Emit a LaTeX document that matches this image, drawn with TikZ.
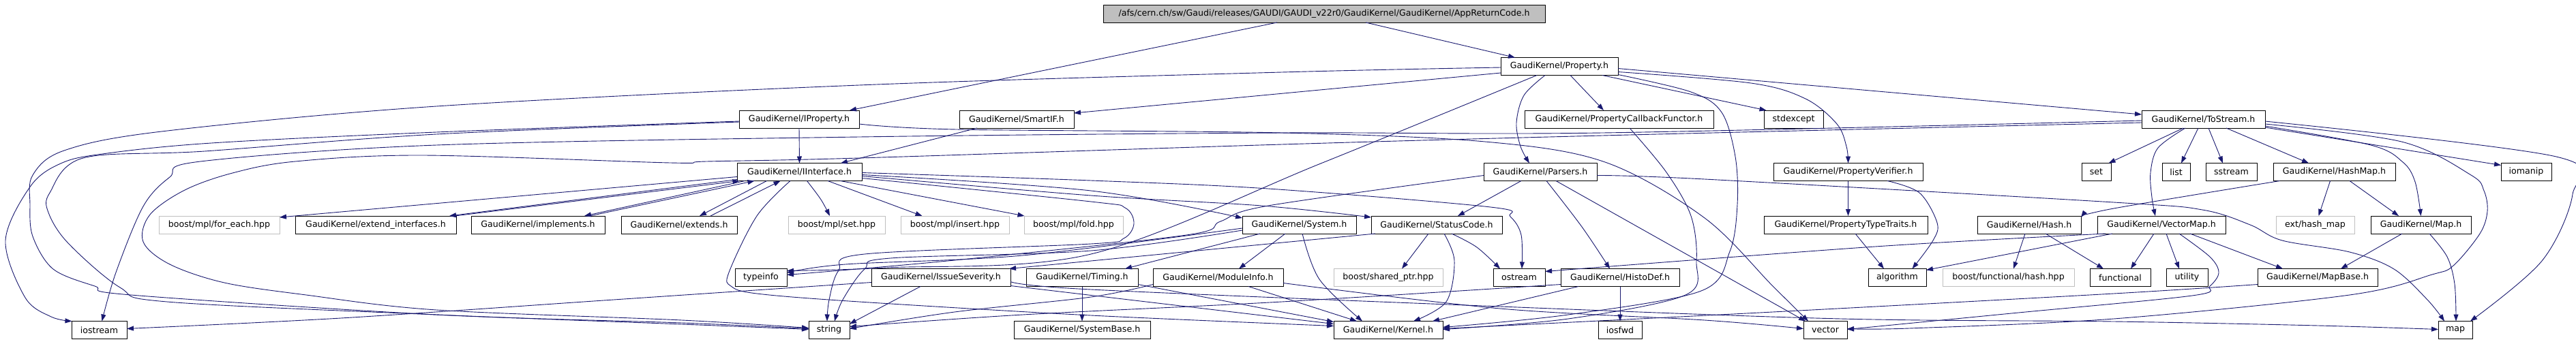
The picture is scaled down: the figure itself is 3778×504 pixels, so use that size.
\documentclass[tikz,border=0pt]{standalone}
\usepackage{fontspec}
\setmainfont{DejaVu Sans}
\usetikzlibrary{arrows.meta}
\definecolor{edgec}{HTML}{191970}
\definecolor{grayb}{HTML}{BFBFBF}
\begin{document}
\begin{tikzpicture}[x=1pt,y=-1pt,
  box/.style={draw=black,line width=1,minimum height=26,inner sep=0,font=\fontsize{12.6}{14}\selectfont},
  extbox/.style={box,draw=grayb},
  edge/.style={draw=edgec,line width=0.9,-{Triangle[length=10pt,width=7pt]}},
  sm/.style={smooth,tension=0.55}]
\useasboundingbox[fill=white] (0,0) rectangle (3778,504);
% row 0
\node[box,fill=grayb,minimum width=648] (title) at (1942,20) {/afs/cern.ch/sw/Gaudi/releases/GAUDI/GAUDI\_v22r0/GaudiKernel/GaudiKernel/AppReturnCode.h};
% row 1
\node[box,minimum width=172] (prop) at (2287,97.5) {GaudiKernel/Property.h};
% row 2
\node[box,minimum width=176] (iprop) at (1172,175) {GaudiKernel/IProperty.h};
\node[box,minimum width=168] (smartif) at (1491,175) {GaudiKernel/SmartIF.h};
\node[box,minimum width=277] (pcf) at (2374.5,175) {GaudiKernel/PropertyCallbackFunctor.h};
\node[box,minimum width=87] (stdexc) at (2630.5,175) {stdexcept};
\node[box,minimum width=181] (tostream) at (3231.5,175) {GaudiKernel/ToStream.h};
% row 3
\node[box,minimum width=183] (iinterface) at (1172.5,252.5) {GaudiKernel/IInterface.h};
\node[box,minimum width=166] (parsers) at (2259,252.5) {GaudiKernel/Parsers.h};
\node[box,minimum width=219] (pverif) at (2710.5,252.5) {GaudiKernel/PropertyVerifier.h};
\node[box,minimum width=43] (set) at (3074.5,252.5) {set};
\node[box,minimum width=41] (list) at (3191.5,252.5) {list};
\node[box,minimum width=75] (sstream) at (3272.5,252.5) {sstream};
\node[box,minimum width=179] (hashmap) at (3423.5,252.5) {GaudiKernel/HashMap.h};
\node[box,minimum width=74] (iomanip) at (3705,252.5) {iomanip};
% row 4
\node[extbox,minimum width=177] (foreach) at (321.5,330) {boost/mpl/for\_each.hpp};
\node[box,minimum width=236] (extif) at (551,330) {GaudiKernel/extend\_interfaces.h};
\node[box,minimum width=196] (impl) at (789,330) {GaudiKernel/implements.h};
\node[box,minimum width=170] (extends) at (996,330) {GaudiKernel/extends.h};
\node[extbox,minimum width=142] (mplset) at (1227,330) {boost/mpl/set.hpp};
\node[extbox,minimum width=159] (insert) at (1400.5,330) {boost/mpl/insert.hpp};
\node[extbox,minimum width=145] (fold) at (1574.5,330) {boost/mpl/fold.hpp};
\node[box,minimum width=167] (system) at (1905.5,330) {GaudiKernel/System.h};
\node[box,minimum width=192] (statuscode) at (2107,330) {GaudiKernel/StatusCode.h};
\node[box,minimum width=240] (ptt) at (2707,330) {GaudiKernel/PropertyTypeTraits.h};
\node[box,minimum width=152] (hash) at (2976,330) {GaudiKernel/Hash.h};
\node[box,minimum width=188] (vectormap) at (3170,330) {GaudiKernel/VectorMap.h};
\node[extbox,minimum width=115] (exthash) at (3395.5,330) {ext/hash\_map};
\node[box,minimum width=147] (mapH) at (3550.5,330) {GaudiKernel/Map.h};
% row 5
\node[box,minimum width=76] (typeinfo) at (1116,407.5) {typeinfo};
\node[box,minimum width=204] (issue) at (1380,407.5) {GaudiKernel/IssueSeverity.h};
\node[box,minimum width=164] (timing) at (1587,407.5) {GaudiKernel/Timing.h};
\node[box,minimum width=191] (modinfo) at (1786.5,407.5) {GaudiKernel/ModuleInfo.h};
\node[extbox,minimum width=160] (sharedptr) at (2036,407.5) {boost/shared\_ptr.hpp};
\node[box,minimum width=76] (ostream) at (2228,407.5) {ostream};
\node[box,minimum width=174] (histodef) at (2376,407.5) {GaudiKernel/HistoDef.h};
\node[box,minimum width=85] (algorithm) at (2782.5,407.5) {algorithm};
\node[extbox,minimum width=193] (bfhash) at (2945.5,407.5) {boost/functional/hash.hpp};
\node[box,minimum width=89] (functional) at (3109.5,407.5) {functional};
\node[box,minimum width=61] (utility) at (3207.5,407.5) {utility};
\node[box,minimum width=176] (mapbase) at (3399,407.5) {GaudiKernel/MapBase.h};
% row 6
\node[box,minimum width=81] (iostream) at (145.5,484.5) {iostream};
\node[box,minimum width=60] (string) at (1216,484.5) {string};
\node[box,minimum width=200] (systembase) at (1587,484.5) {GaudiKernel/SystemBase.h};
\node[box,minimum width=160] (kernel) at (2036,484.5) {GaudiKernel/Kernel.h};
\node[box,minimum width=64] (iosfwd) at (2376,484.5) {iosfwd};
\node[box,minimum width=64] (vector) at (2677,484.5) {vector};
\node[box,minimum width=50] (map) at (3601,484.5) {map};
% ---------------- edges
\draw[edge] ([shift={(-69,13)}]title.center) -- ([shift={(74,-13)}]iprop.center);
\draw[edge] ([shift={(61,13)}]title.center) -- ([shift={(-65,-13)}]prop.center);
\draw[edge] ([shift={(-86,9.5)}]prop.center) -- ([shift={(84,-9)}]smartif.center);
\draw[edge] plot[sm] coordinates {([shift={(-86,1.5)}]prop.center) (1880,106) (1260,125) (640,156) (237,193) (94,221) (48,257) (44,300) (48,347) (78,395) (139,420) (192,433) (640,462) (1000,474) ([shift={(-30,-2)}]string.center)};
\draw[edge] ([shift={(16,13)}]prop.center) -- ([shift={(-22.5,-13)}]pcf.center);
\draw[edge] plot[sm] coordinates {([shift={(-21,13)}]prop.center) (2235,140) (2224,180) (2230,215) ([shift={(-16,-13)}]parsers.center)};
\draw[edge] plot[sm] coordinates {([shift={(-33,13)}]prop.center) (1937,240) (1600,373) (1300,393) ([shift={(38,-10)}]typeinfo.center)};
\draw[edge] ([shift={(63,13)}]prop.center) -- ([shift={(-40,-13)}]stdexc.center);
\draw[edge] plot[sm] coordinates {([shift={(86,8)}]prop.center) (2568,122) (2648,145) (2694,182) (2708,215) ([shift={(0,-13)}]pverif.center)};
\draw[edge] ([shift={(86,3)}]prop.center) -- ([shift={(-90.5,-7)}]tostream.center);
\draw[edge] plot[sm] coordinates {([shift={(86,12)}]prop.center) (2480,135) (2525,165) (2545,230) (2548,300) (2537,369) (2495,427) (2300,462) ([shift={(80,-4)}]kernel.center)};
\draw[edge] plot[sm] coordinates {([shift={(15.5,13)}]pcf.center) (2444,253) (2480,317) (2488,383) (2472,433) (2300,468) ([shift={(80,-1)}]kernel.center)};
\draw[edge] ([shift={(0,13)}]iprop.center) -- ([shift={(0,-13)}]iinterface.center);
\draw[edge] plot[sm] coordinates {([shift={(-88,3)}]iprop.center) (640,194) (310,210) (150,226) (89,240) (45,273) (8,353) (37,437) (75,465) ([shift={(-40,-13)}]iostream.center)};
\draw[edge] plot[sm] coordinates {([shift={(-88,4)}]iprop.center) (640,197) (300,222) (122,232) (73,283) (71,312) (100,357) (176,422) (245,443) (640,462) (1000,476) ([shift={(-30,-1)}]string.center)};
\draw[edge] plot[sm] coordinates {([shift={(88,7)}]iprop.center) (1403,190) (1880,195) (2178,208) (2354,238) (2500,320) (2600,420) ([shift={(-25,-13)}]vector.center)};
\draw[edge] ([shift={(-58,13)}]smartif.center) -- ([shift={(60.5,-13)}]iinterface.center);
\draw[edge] ([shift={(-91.5,7)}]iinterface.center) -- ([shift={(88.5,-11)}]foreach.center);
\draw[edge] ([shift={(-91.5,11)}]iinterface.center) -- ([shift={(108,-13)}]extif.center);
\draw[edge] ([shift={(116,-13)}]extif.center) -- ([shift={(-88,13)}]iinterface.center);
\draw[edge] ([shift={(-80,13)}]iinterface.center) -- ([shift={(68,-13)}]impl.center);
\draw[edge] ([shift={(76,-13)}]impl.center) -- ([shift={(-66,13)}]iinterface.center);
\draw[edge] ([shift={(-48,13)}]iinterface.center) -- ([shift={(30,-13)}]extends.center);
\draw[edge] ([shift={(46,-13)}]extends.center) -- ([shift={(-28,13)}]iinterface.center);
\draw[edge] plot[sm] coordinates {([shift={(11,13)}]iinterface.center) (1204,293) ([shift={(-10,-13)}]mplset.center)};
\draw[edge] ([shift={(41.5,13)}]iinterface.center) -- ([shift={(-48,-13)}]insert.center);
\draw[edge] ([shift={(60,13)}]iinterface.center) -- ([shift={(-72,-13)}]fold.center);
\draw[edge] plot[sm] coordinates {([shift={(91.5,4)}]iinterface.center) (1600,280) ([shift={(-83.5,-10)}]system.center)};
\draw[edge] plot[sm] coordinates {([shift={(91.5,6)}]iinterface.center) (1600,287) (1850,302) ([shift={(-96,-11)}]statuscode.center)};
\draw[edge] plot[sm] coordinates {([shift={(91.5,1)}]iinterface.center) (1600,265) (1860,277) (2186,304) (2215,318) (2231,345) ([shift={(4,-13)}]ostream.center)};
\draw[edge] plot[sm] coordinates {([shift={(91.5,9)}]iinterface.center) (1600,296) (1650,305) (1663,328) (1648,350) (1600,358) (1268,373) (1230,397) (1216,440) ([shift={(-3,-13)}]string.center)};
\draw[edge] plot[sm] coordinates {([shift={(-83.5,8)}]system.center) (1600,368) (1306,379) (1268,395) (1236,440) ([shift={(8,-13)}]string.center)};
\draw[edge] plot[sm] coordinates {([shift={(-83.5,5)}]system.center) (1500,375) (1240,388) ([shift={(38,-7)}]typeinfo.center)};
\draw[edge] ([shift={(-57.5,13)}]system.center) -- ([shift={(63,-13)}]timing.center);
\draw[edge] ([shift={(-20.5,13)}]system.center) -- ([shift={(30.5,-13)}]modinfo.center);
\draw[edge] plot[sm] coordinates {([shift={(4.5,13)}]system.center) (1935,410) ([shift={(-38,-13)}]kernel.center)};
\draw[edge] ([shift={(-12,13)}]statuscode.center) -- ([shift={(20,-13)}]sharedptr.center);
\draw[edge] plot[sm] coordinates {([shift={(11,13)}]statuscode.center) (2133,383) (2121,443) ([shift={(37,-13)}]kernel.center)};
\draw[edge] plot[sm] coordinates {([shift={(22,13)}]statuscode.center) (2166,363) ([shift={(-28,-13)}]ostream.center)};
\draw[edge] ([shift={(-90,13)}]statuscode.center) -- ([shift={(100,-13)}]issue.center);
\draw[edge] ([shift={(-28,13)}]parsers.center) -- ([shift={(31,-13)}]statuscode.center);
\draw[edge] plot[sm] coordinates {([shift={(9,13)}]parsers.center) (2320,333) ([shift={(-15,-13)}]histodef.center)};
\draw[edge] ([shift={(23,13)}]parsers.center) -- ([shift={(-29,-13)}]vector.center);
\draw[edge] plot[sm] coordinates {([shift={(83,5)}]parsers.center) (2500,263) (3100,297) (3230,308) (3300,330) (3347,353) (3446,370) (3511,395) (3560,440) ([shift={(-16,-13)}]map.center)};
\draw[edge] plot[sm] coordinates {([shift={(-83,5)}]parsers.center) (1860,302) (1790,325) (1740,345) (1400,382) ([shift={(38,-4)}]typeinfo.center)};
\draw[edge] ([shift={(0,13)}]histodef.center) -- ([shift={(0,-13)}]iosfwd.center);
\draw[edge] ([shift={(-61,13)}]histodef.center) -- ([shift={(65,-13)}]kernel.center);
\draw[edge] plot[sm] coordinates {([shift={(-87,10)}]histodef.center) (1880,443) (1500,462) ([shift={(30,-5)}]string.center)};
\draw[edge] ([shift={(0,13)}]pverif.center) -- ([shift={(3.5,-13)}]ptt.center);
\draw[edge] plot[sm] coordinates {([shift={(57.5,13)}]pverif.center) (2815,283) (2841,327) (2835,353) ([shift={(22,-13)}]algorithm.center)};
\draw[edge] ([shift={(14,13)}]ptt.center) -- ([shift={(-19.5,-13)}]algorithm.center);
\draw[edge] ([shift={(-6,13)}]hash.center) -- ([shift={(7.5,-13)}]bfhash.center);
\draw[edge] ([shift={(24,13)}]hash.center) -- ([shift={(-24.5,-13)}]functional.center);
\draw[edge] plot[sm] coordinates {([shift={(-80,13)}]hashmap.center) (3100,306) ([shift={(76,-11)}]hash.center)};
\draw[edge] ([shift={(-6,13)}]hashmap.center) -- ([shift={(5,-13)}]exthash.center);
\draw[edge] ([shift={(22.5,13)}]hashmap.center) -- ([shift={(-32.5,-13)}]mapH.center);
\draw[edge] ([shift={(-27.5,13)}]mapH.center) -- ([shift={(34,-13)}]mapbase.center);
\draw[edge] plot[sm] coordinates {([shift={(12.5,13)}]mapH.center) (3589,377) (3600,417) ([shift={(1,-13)}]map.center)};
\draw[edge] plot[sm] coordinates {([shift={(-88,10)}]mapbase.center) (3100,431) (2600,458) ([shift={(80,-2)}]kernel.center)};
\draw[edge] ([shift={(-11,13)}]vectormap.center) -- ([shift={(15.5,-13)}]functional.center);
\draw[edge] ([shift={(7,13)}]vectormap.center) -- ([shift={(-11.5,-13)}]utility.center);
\draw[edge] ([shift={(42,13)}]vectormap.center) -- ([shift={(-51,-13)}]mapbase.center);
\draw[edge] ([shift={(-72,13)}]vectormap.center) -- ([shift={(42.5,-11)}]algorithm.center);
\draw[edge] plot[sm] coordinates {([shift={(-82,13)}]vectormap.center) (2750,362) ([shift={(38,-9)}]ostream.center)};
\draw[edge] plot[sm] coordinates {([shift={(26,13)}]vectormap.center) (3241,377) (3254,400) (3241,420) (3215,434) (2950,460) ([shift={(32,-1)}]vector.center)};
\draw[edge] ([shift={(-29.5,13)}]tostream.center) -- ([shift={(18,-13)}]set.center);
\draw[edge] ([shift={(-7.5,13)}]tostream.center) -- ([shift={(7.5,-13)}]list.center);
\draw[edge] ([shift={(7.5,13)}]tostream.center) -- ([shift={(-12.5,-13)}]sstream.center);
\draw[edge] ([shift={(33.5,13)}]tostream.center) -- ([shift={(-37.5,-13)}]hashmap.center);
\draw[edge] plot[sm] coordinates {([shift={(-26.5,13)}]tostream.center) (3165,217) (3154,253) (3156,290) ([shift={(-9,-13)}]vectormap.center)};
\draw[edge] plot[sm] coordinates {([shift={(90.5,10)}]tostream.center) (3477,213) (3524,238) (3542,267) ([shift={(0,-13)}]mapH.center)};
\draw[edge] ([shift={(90.5,12)}]tostream.center) -- ([shift={(-37,-10)}]iomanip.center);
\draw[edge] plot[sm] coordinates {([shift={(90.5,3)}]tostream.center) (3749,230) (3773,285) (3728,383) ([shift={(22,-13)}]map.center)};
\draw[edge] plot[sm] coordinates {([shift={(90.5,7)}]tostream.center) (3522,208) (3624,257) (3643,280) (3648,310) (3637,343) (3598,390) (3567,403) (3446,433) (3100,468) (2800,482) ([shift={(32,-2)}]vector.center)};
\draw[edge] plot[sm] coordinates {([shift={(-90.5,2)}]tostream.center) (2350,195) (1880,195) (1260,201) (640,213) (294,237) (249,260) (210,303) (170,400) ([shift={(4,-13)}]iostream.center)};
\draw[edge] plot[sm] coordinates {([shift={(-90.5,5)}]tostream.center) (2350,199) (1880,212) (1260,232) (1036,237) (983,239) (620,228) (433,237) (341,254) (271,279) (220,315) (210,355) (249,388) (329,415) (449,433) (640,455) (1000,470) ([shift={(-30,-3)}]string.center)};
\draw[edge] ([shift={(-30,13)}]issue.center) -- ([shift={(30,-9)}]string.center);
\draw[edge] plot[sm] coordinates {([shift={(-102,7)}]issue.center) (900,440) (500,467) ([shift={(40.5,-2)}]iostream.center)};
\draw[edge] ([shift={(102,12)}]issue.center) -- ([shift={(-80,-9)}]kernel.center);
\draw[edge] plot[sm] coordinates {([shift={(102,6)}]issue.center) (1600,425) (2200,450) (2700,468) (3100,472) (3400,478) ([shift={(-25,-1)}]map.center)};
\draw[edge] ([shift={(0,13)}]timing.center) -- ([shift={(0,-13)}]systembase.center);
\draw[edge] ([shift={(82,10)}]timing.center) -- ([shift={(-80,-12)}]kernel.center);
\draw[edge] ([shift={(44.5,13)}]modinfo.center) -- ([shift={(-46,-13)}]kernel.center);
\draw[edge] plot[sm] coordinates {([shift={(-95.5,10)}]modinfo.center) (1600,436) (1400,458) ([shift={(30,-2)}]string.center)};
\draw[edge] plot[sm] coordinates {([shift={(95.5,8)}]modinfo.center) (2200,453) (2500,470) ([shift={(-32,-2)}]vector.center)};
\draw[edge] plot[sm] coordinates {([shift={(-13.5,13)}]iinterface.center) (1110,317) (1069,400) (1072,420) (1110,431) (1260,443) (1600,463) ([shift={(-80,-6)}]kernel.center)};
\end{tikzpicture}
\end{document}
